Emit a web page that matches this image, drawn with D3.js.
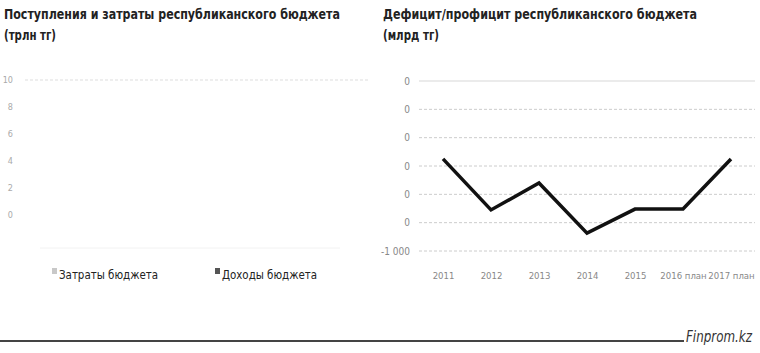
<!DOCTYPE html>
<html><head><meta charset="utf-8">
<script src="https://cdn.jsdelivr.net/npm/d3@7/dist/d3.min.js"></script>
<style>
body{margin:0;background:#fff;}
svg{display:block;}
text{font-stretch:condensed;}
</style></head>
<body><svg id="c" width="760" height="353"></svg>
<script>
// ---- data ----
const years = ["2011","2012","2013","2014","2015","2016 план","2017 план"];
const balance = [2250, 450, 1400, -370, 480, 480, 2250];
const rightTicks = [-1000, 0, 1000, 2000, 3000, 4000, 5000];
const leftTicks = [0, 2, 4, 6, 8, 10];
const spending = []; // not drawn in the source
const revenue = [];
const legendItems = ["Затраты бюджета", "Доходы бюджета"];
const titleLeft = ["Поступления и затраты республиканского бюджета", "(трлн тг)"];
const titleRight = ["Дефицит/профицит республиканского бюджета", "(млрд тг)"];

const svg = d3.select("#c");
const F = "'DejaVu Sans Condensed','Liberation Sans Narrow','DejaVu Sans',sans-serif";

// titles
function title(lines, x, widths) {
  lines.forEach((l, i) => svg.append("text").attr("font-family", F).attr("font-weight", "bold")
    .attr("font-size", 14).attr("fill", "#222")
    .attr("x", x).attr("y", 19 + i * 21)
    .attr("textLength", widths[i]).attr("lengthAdjust", "spacingAndGlyphs").text(l));
}
title(titleLeft, 4, [336, 52]);
title(titleRight, 383, [314, 56]);

// ---- left chart ----
const yL = d3.scaleLinear().domain([0, 10]).range([215, 80]);
const gL = svg.append("g");
gL.append("line").attr("x1", 25).attr("x2", 368).attr("y1", yL(10)).attr("y2", yL(10))
  .attr("stroke", "#ddd").attr("stroke-dasharray", "3,2");
gL.append("line").attr("x1", 40).attr("x2", 340).attr("y1", 248).attr("y2", 248)
  .attr("stroke", "#f2f2f2");
const axL = gL.append("g").attr("transform", "translate(15,0)")
  .call(d3.axisLeft(yL).tickValues(leftTicks).tickSize(0).tickPadding(2));
axL.select(".domain").remove();
axL.selectAll("text").attr("font-family", F).attr("font-size", 9).attr("fill", "#aaa");

// legend
const legColors = ["#c8c8c8", "#555"];
const legX = [52, 215];
const legW = [99, 95];
legendItems.forEach((s, i) => {
  svg.append("rect").attr("x", legX[i]).attr("y", 268).attr("width", 5).attr("height", 6)
    .attr("fill", legColors[i]);
  svg.append("text").attr("x", legX[i] + 7).attr("y", 279).attr("font-family", F)
    .attr("font-size", 13).attr("fill", "#222")
    .attr("textLength", legW[i]).attr("lengthAdjust", "spacingAndGlyphs").text(s);
});

// ---- right chart ----
const x = d3.scalePoint().domain(years).range([419, 755]).padding(0.5);
const y = d3.scaleLinear().domain([-1000, 5000]).range([251, 81]);
const gR = svg.append("g");
gR.selectAll("line.grid").data(rightTicks).join("line").attr("class", "grid")
  .attr("x1", 419).attr("x2", 755)
  .attr("y1", d => y(d)).attr("y2", d => y(d))
  .attr("stroke", d => d === 5000 ? "#d8d8d8" : "#ccc")
  .attr("stroke-width", d => d === 5000 ? 1.2 : 1)
  .attr("stroke-dasharray", d => d === 5000 ? null : "3,2");

const defs = svg.append("defs");
const cp = defs.append("clipPath").attr("id", "yclip");
cp.append("rect").attr("x", 404).attr("y", 60).attr("width", 20).attr("height", 178);
cp.append("rect").attr("x", 380).attr("y", 238).attr("width", 40).attr("height", 25);
const clipG = gR.append("g").attr("clip-path", "url(#yclip)");
const axR = clipG.append("g").attr("transform", "translate(412,0)")
  .call(d3.axisLeft(y).tickValues(rightTicks).tickSize(0).tickPadding(2)
    .tickFormat(d => d3.format(",")(d).replace(/,/g, " ").replace("−", "-")));
axR.select(".domain").remove();
axR.selectAll("text").attr("font-family", F).attr("font-size", 10).attr("fill", "#888");

const axX = gR.append("g").attr("transform", "translate(0,265)")
  .call(d3.axisBottom(x).tickSize(0).tickPadding(7));
axX.select(".domain").remove();
axX.selectAll("text").attr("font-family", F).attr("font-size", 9.5).attr("fill", "#888");

gR.append("path").datum(balance)
  .attr("d", d3.line().x((d, i) => x(years[i])).y(d => y(d)))
  .attr("fill", "none").attr("stroke", "#111").attr("stroke-width", 3.5)
  .attr("stroke-linejoin", "miter");

// footer
svg.append("line").attr("x1", 0).attr("x2", 684).attr("y1", 341).attr("y2", 341)
  .attr("stroke", "#444").attr("stroke-width", 2);
svg.append("text").attr("x", 686).attr("y", 342).attr("font-family", F)
  .attr("font-style", "italic").attr("font-size", 16).attr("fill", "#333")
  .attr("textLength", 66).attr("lengthAdjust", "spacingAndGlyphs").text("Finprom.kz");
</script></body></html>
